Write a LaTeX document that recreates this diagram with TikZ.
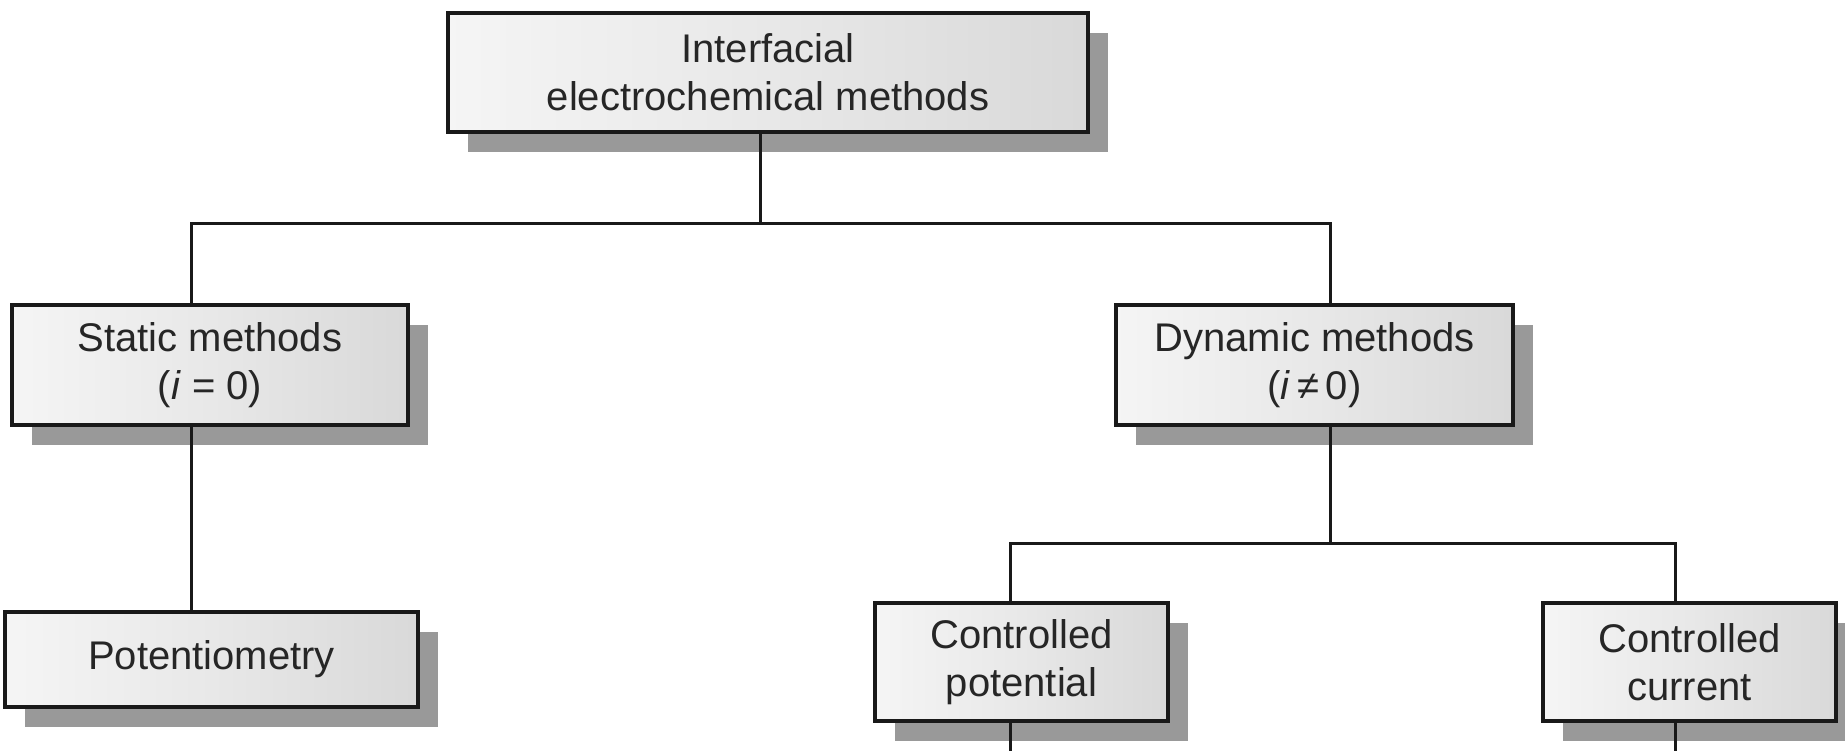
\documentclass[tikz,border=0pt]{standalone}
\usepackage{fontspec}
\setmainfont{Liberation Sans}
\usetikzlibrary{shadows}
\begin{document}
\begin{tikzpicture}[x=0.5pt,y=-0.5pt,
  box/.style={draw=black!90, line width=1.75pt, align=center, inner sep=0pt,
    left color=white!96!black, right color=black!15, middle color=black!9,
    text=black!85, font=\fontsize{20}{24}\selectfont,
    general shadow={shadow xshift=10pt, shadow yshift=-10pt, fill=black!40}},
  conn/.style={draw=black!90, line width=1.5pt}]
\useasboundingbox (0,0) rectangle (1845,751);
\node[box, minimum width=320pt, minimum height=59.5pt] (top) at (768,72.5) {Interfacial\\electrochemical methods};
\node[box, minimum width=198pt, minimum height=60pt] (static) at (210,365) {Static methods\\(\textit{i} = 0)};
\node[box, minimum width=198.5pt, minimum height=60pt] (dynamic) at (1314.5,365) {Dynamic methods\\(\textit{i}\,≠\,0)};
\node[box, minimum width=206.5pt, minimum height=47.5pt] (pot) at (211.5,659.5) {Potentiometry};
\node[box, minimum width=146.5pt, minimum height=59pt] (cpot) at (1021.5,662) {Controlled\\potential};
\node[box, minimum width=146.5pt, minimum height=59pt] (ccur) at (1689.5,662) {Controlled\\current};
\coordinate (b1) at (760,223);
\coordinate (sL) at (191,223);
\coordinate (dR) at (1330,223);
\coordinate (b2) at (1330,543);
\coordinate (pL) at (1010,543);
\coordinate (cR) at (1675,543);
\coordinate (e1) at (1010,751);
\coordinate (e2) at (1675,751);
\draw[conn] (top.south -| b1) -- (b1);
\draw[conn] (static.north -| sL) -- (sL) -- (dR) -- (dynamic.north -| dR);
\draw[conn] (static.south -| sL) -- (pot.north -| sL);
\draw[conn] (dynamic.south -| dR) -- (b2);
\draw[conn] (cpot.north -| pL) -- (pL) -- (cR) -- (ccur.north -| cR);
\draw[conn] (cpot.south -| e1) -- (e1);
\draw[conn] (ccur.south -| e2) -- (e2);
\end{tikzpicture}
\end{document}
